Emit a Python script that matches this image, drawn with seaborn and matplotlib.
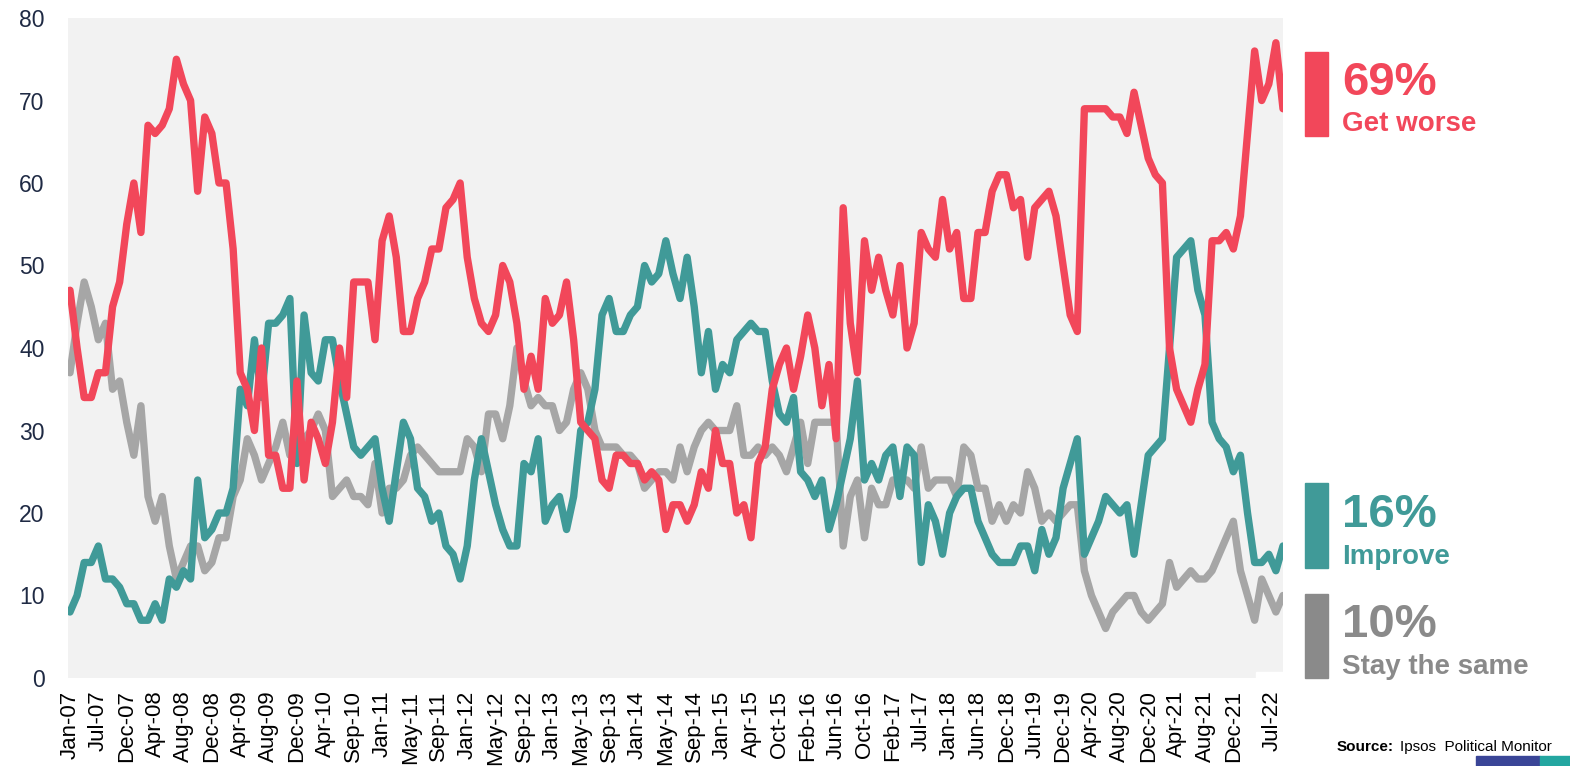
import numpy as np
import pandas as pd
import matplotlib.pyplot as plt
import seaborn as sns
from matplotlib.patches import Rectangle

# Ipsos Political Monitor - economic optimism, one value per survey
get_worse = [47, 40, 34, 34, 37, 37, 45, 48, 55, 60,
             54, 67, 66, 67, 69, 75, 72, 70, 59, 68,
             66, 60, 60, 52, 37, 35, 30, 40, 27, 27,
             23, 23, 36, 24, 31, 29, 26, 31, 40, 34,
             48, 48, 48, 41, 53, 56, 51, 42, 42, 46,
             48, 52, 52, 57, 58, 60, 51, 46, 43, 42,
             44, 50, 48, 43, 35, 39, 35, 46, 43, 44,
             48, 41, 31, 30, 29, 24, 23, 27, 27, 26,
             26, 24, 25, 24, 18, 21, 21, 19, 21, 25,
             23, 30, 26, 26, 20, 21, 17, 26, 28, 35,
             38, 40, 35, 39, 44, 40, 33, 38, 29, 57,
             43, 37, 53, 47, 51, 47, 44, 50, 40, 43,
             54, 52, 51, 58, 52, 54, 46, 46, 54, 54,
             59, 61, 61, 57, 58, 51, 57, 58, 59, 56,
             50, 44, 42, 69, 69, 69, 69, 68, 68, 66,
             71, 67, 63, 61, 60, 40, 35, 33, 31, 35,
             38, 53, 53, 54, 52, 56, 66, 76, 70, 72,
             77, 69]

improve = [8, 10, 14, 14, 16, 12, 12, 11, 9, 9,
           7, 7, 9, 7, 12, 11, 13, 12, 24, 17,
           18, 20, 20, 23, 35, 33, 41, 34, 43, 43,
           44, 46, 26, 44, 37, 36, 41, 41, 36, 32,
           28, 27, 28, 29, 23, 19, 25, 31, 29, 23,
           22, 19, 20, 16, 15, 12, 16, 24, 29, 25,
           21, 18, 16, 16, 26, 25, 29, 19, 21, 22,
           18, 22, 30, 31, 35, 44, 46, 42, 42, 44,
           45, 50, 48, 49, 53, 49, 46, 51, 45, 37,
           42, 35, 38, 37, 41, 42, 43, 42, 42, 36,
           32, 31, 34, 25, 24, 22, 24, 18, 21, 25,
           29, 36, 24, 26, 24, 27, 28, 22, 28, 27,
           14, 21, 19, 15, 20, 22, 23, 23, 19, 17,
           15, 14, 14, 14, 16, 16, 13, 18, 15, 17,
           23, 26, 29, 15, 17, 19, 22, 21, 20, 21,
           15, 21, 27, 28, 29, 40, 51, 52, 53, 47,
           44, 31, 29, 28, 25, 27, 20, 14, 14, 15,
           13, 16]

stay_same = [37, 43, 48, 45, 41, 43, 35, 36, 31, 27,
             33, 22, 19, 22, 16, 12, 14, 16, 16, 13,
             14, 17, 17, 22, 24, 29, 27, 24, 26, 28,
             31, 27, 29, 29, 30, 32, 30, 22, 23, 24,
             22, 22, 21, 26, 20, 23, 23, 24, 27, 28,
             27, 26, 25, 25, 25, 25, 29, 28, 25, 32,
             32, 29, 33, 40, 36, 33, 34, 33, 33, 30,
             31, 35, 37, 35, 30, 28, 28, 28, 27, 27,
             26, 23, 24, 25, 25, 24, 28, 25, 28, 30,
             31, 30, 30, 30, 33, 27, 27, 28, 27, 28,
             27, 25, 28, 31, 26, 31, 31, 31, 31, 16,
             22, 24, 17, 23, 21, 21, 24, 24, 24, 23,
             28, 23, 24, 24, 24, 22, 28, 27, 23, 23,
             19, 21, 19, 21, 20, 25, 23, 19, 20, 19,
             20, 21, 21, 13, 10, 8, 6, 8, 9, 10,
             10, 8, 7, 8, 9, 14, 11, 12, 13, 12,
             12, 13, 15, 17, 19, 13, 10, 7, 12, 10,
             8, 10]

tick_labels = ["Jan-07", "Jul-07", "Dec-07", "Apr-08", "Aug-08", "Dec-08",
               "Apr-09", "Aug-09", "Dec-09", "Apr-10", "Sep-10", "Jan-11",
               "May-11", "Sep-11", "Jan-12", "May-12", "Sep-12", "Jan-13",
               "May-13", "Sep-13", "Jan-14", "May-14", "Sep-14", "Jan-15",
               "Apr-15", "Oct-15", "Feb-16", "Jun-16", "Oct-16", "Feb-17",
               "Jul-17", "Jan-18", "Jun-18", "Dec-18", "Jun-19", "Dec-19",
               "Apr-20", "Aug-20", "Dec-20", "Apr-21", "Aug-21", "Dec-21"]
last_label = "Jul-22"

series_names = ["Stay the same", "Improve", "Get worse"]
latest = ["10%", "16%", "69%"]

RED = "#F2475A"
TEAL = "#409A98"
GREY_LINE = "#A6A6A6"
GREY_TEXT = "#8A8A8A"
NAVY = "#1F2A44"

sns.set_theme(style="white")
plt.rcParams['font.family'] = ['Liberation Sans', 'DejaVu Sans']

n = len(get_worse)
df = pd.DataFrame({"survey": np.arange(n),
                   "Get worse": get_worse,
                   "Improve": improve,
                   "Stay the same": stay_same})
long = df.melt(id_vars="survey", var_name="series", value_name="pct")

W, H = 1570, 766
fig = plt.figure(figsize=(W / 100, H / 100), dpi=100)
fig.patch.set_facecolor("white")


def fx(px):
    return px / W


def fy(py):
    return 1 - py / H


ax = fig.add_axes([fx(68), fy(678), fx(1283) - fx(68), fy(18) - fy(678)])
ax.set_facecolor("#F2F2F2")

sns.lineplot(data=long, x="survey", y="pct", hue="series",
             hue_order=series_names,
             palette={"Stay the same": GREY_LINE, "Improve": TEAL, "Get worse": RED},
             linewidth=5.3, legend=False, ax=ax,
             solid_joinstyle="round", solid_capstyle="round")

# first survey sits a couple of pixels inside the grey panel
ax.set_xlim(-0.28, n - 1)
ax.set_ylim(0, 80)
ax.set_yticks(range(0, 81, 10))
ax.tick_params(axis="y", length=0, pad=17, labelsize=16.5, labelcolor=NAVY)

xt = list(np.arange(0, 4 * len(tick_labels), 4)) + [n - 2.5]
ax.set_xticks(xt)
ax.set_xticklabels(tick_labels + [last_label], rotation=90, fontsize=16, color="black")
ax.tick_params(axis="x", length=0, pad=9)
ax.set_xlabel("")
ax.set_ylabel("")
for s in ax.spines.values():
    s.set_visible(False)
ax.grid(False)

# small white patch at the bottom-right corner of the plot area
fig.patches.append(Rectangle((fx(1256), fy(680)), fx(28), fy(672) - fy(680),
                             transform=fig.transFigure, color="white", zorder=5))

# right-hand labels with the latest values
blocks = [
    (RED, latest[2], "Get worse", 52, 136, 95, 131),
    (TEAL, latest[1], "Improve", 483, 568, 527, 564),
    (GREY_TEXT, latest[0], "Stay the same", 594, 678, 637, 674),
]
for col, pct, name, top, bot, base1, base2 in blocks:
    fig.patches.append(Rectangle((fx(1305), fy(bot)), fx(23), fy(top) - fy(bot),
                                 transform=fig.transFigure, color=col))
    fig.text(fx(1342), fy(base1), pct, color=col, fontsize=34,
             fontweight="bold", va="baseline", ha="left")
    fig.text(fx(1342), fy(base2), name, color=col, fontsize=20,
             fontweight="bold", va="baseline", ha="left")

# source line and brand strip
fig.text(fx(1337), fy(751), "Source:", fontsize=11, fontweight="bold",
         color="black", va="baseline", ha="left")
fig.text(fx(1400), fy(751), "Ipsos  Political Monitor", fontsize=11,
         color="black", va="baseline", ha="left")
fig.patches.append(Rectangle((fx(1476), 0), fx(64), fy(756), transform=fig.transFigure,
                             color="#3A4597"))
fig.patches.append(Rectangle((fx(1540), 0), fx(30), fy(756), transform=fig.transFigure,
                             color="#23A6A0"))

fig.savefig("out.png", dpi=100)
